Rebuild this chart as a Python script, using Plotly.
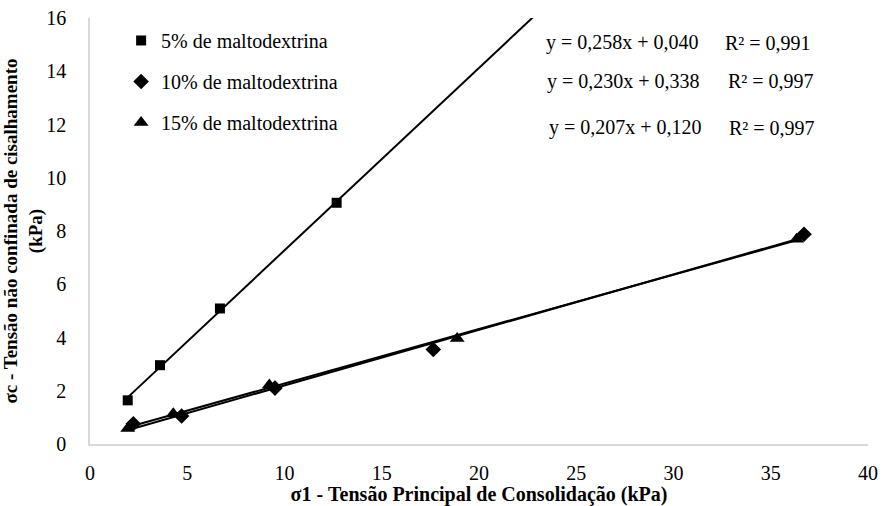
import numpy as np
import plotly.graph_objects as go

# Data
x_5 = [1.94, 3.60, 6.68, 12.68]
y_5 = [1.64, 2.96, 5.09, 9.06]

x_10 = [2.23, 4.71, 9.51, 17.65, 36.71]
y_10 = [0.76, 1.05, 2.10, 3.55, 7.88]

x_15 = [1.94, 4.28, 9.22, 18.88, 36.33]
y_15 = [0.58, 1.14, 2.22, 3.96, 7.69]

names = ["5% de maltodextrina", "10% de maltodextrina", "15% de maltodextrina"]
equations = ["y = 0,258x + 0,040", "y = 0,230x + 0,338", "y = 0,207x + 0,120"]
r2_labels = ["R² = 0,991", "R² = 0,997", "R² = 0,997"]
forecast_end_5 = 25.0

FONT = "Liberation Serif"
symbols = ["square", "diamond", "triangle-up"]
sizes = [10, 12, 13]

series = [(x_5, y_5), (x_10, y_10), (x_15, y_15)]
fig = go.Figure()

# trend lines (least-squares fits of each series)
for i, (xs, ys) in enumerate(series):
    m, b = np.polyfit(xs, ys, 1)
    x0 = min(xs)
    x1 = forecast_end_5 if i == 0 else max(xs)
    fig.add_trace(go.Scatter(x=[x0, x1], y=[m * x0 + b, m * x1 + b], mode="lines",
                             line=dict(color="black", width=2), showlegend=False,
                             hoverinfo="skip"))

for i, (xs, ys) in enumerate(series):
    fig.add_trace(go.Scatter(x=xs, y=ys, mode="markers", name=names[i],
                             legendgroup=f"g{i}",
                             marker=dict(symbol=symbols[i], size=sizes[i], color="black")))

eq_pos = [(0.584, 0.942, 0.814), (0.585, 0.851, 0.818), (0.588, 0.742, 0.819)]
for i in range(3):
    ex, ey, rx = eq_pos[i]
    fig.add_annotation(x=ex, y=ey, xref="paper", yref="paper", text=equations[i],
                       showarrow=False, xanchor="left", yanchor="middle",
                       font=dict(family=FONT, size=20, color="black"))
    fig.add_annotation(x=rx, y=ey, xref="paper", yref="paper", text=r2_labels[i],
                       showarrow=False, xanchor="left", yanchor="middle",
                       font=dict(family=FONT, size=20, color="black"))

fig.update_layout(
    width=883, height=506,
    margin=dict(l=90, r=15, t=18, b=62),
    paper_bgcolor="white", plot_bgcolor="white",
    font=dict(family=FONT, size=20, color="black"),
    showlegend=True,
    legend=dict(x=0.04, y=0.993, xanchor="left", yanchor="top",
                bgcolor="rgba(0,0,0,0)", traceorder="grouped", tracegroupgap=12,
                font=dict(family=FONT, size=20, color="black")),
    xaxis=dict(range=[0, 40], dtick=5, showgrid=False, zeroline=False,
               showline=True, linecolor="#d9d9d9", linewidth=1.5,
               ticks="", ticklabelstandoff=10, automargin=False,
               tickfont=dict(family=FONT, size=20, color="black"),
               title=dict(text="<b>σ1 - Tensão Principal de Consolidação (kPa)</b>",
                          font=dict(family=FONT, size=20, color="black"), standoff=5)),
    yaxis=dict(range=[0, 16], dtick=2, showgrid=False, zeroline=False,
               showline=True, linecolor="#d9d9d9", linewidth=1.5,
               ticks="", ticklabelstandoff=18, automargin=False,
               tickfont=dict(family=FONT, size=20, color="black"),
               title=dict(text="<b>σc - Tensão não confinada de cisalhamento<br>(kPa)</b>",
                          font=dict(family=FONT, size=19, color="black"), standoff=0)),
)

fig.write_html("out.html")
